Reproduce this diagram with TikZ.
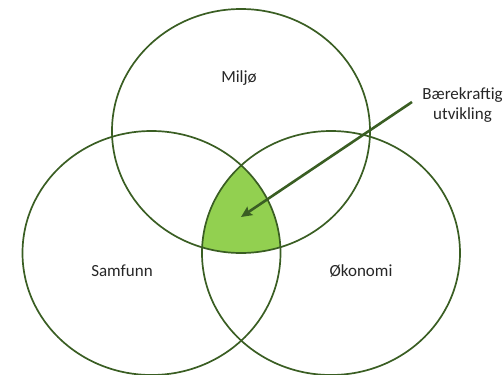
\documentclass[tikz,border=0pt]{standalone}
\usepackage{fontspec}
\setmainfont{Carlito}
\usetikzlibrary{arrows.meta}
\definecolor{ring}{HTML}{3A5E23}
\definecolor{core}{HTML}{92D050}
\definecolor{ink}{HTML}{262626}
\begin{document}
\begin{tikzpicture}[x=1pt,y=-1pt,
  ringline/.style={draw=ring, line width=1.7pt},
  lbl/.style={font=\fontsize{17}{20}\selectfont, text=ink, align=center, inner sep=0pt},
  pointer/.style={draw=ring, line width=2.6pt, -{Stealth[length=11pt,width=10pt,inset=2pt]}}]
\useasboundingbox (0,0) rectangle (504,375);
\begin{scope}
  \clip (241,131) ellipse [x radius=129, y radius=122];
  \clip (151.5,253) ellipse [x radius=129, y radius=122];
  \fill[core] (331,253) ellipse [x radius=129, y radius=122];
\end{scope}
\draw[ringline] (241,131) ellipse [x radius=129, y radius=122];
\draw[ringline] (151.5,253) ellipse [x radius=129, y radius=122];
\draw[ringline] (331,253) ellipse [x radius=129, y radius=122];
\node[lbl] (miljo) at (239,78) {Miljø};
\node[lbl] (samf) at (122,271) {Samfunn};
\node[lbl] (okon) at (361,271) {Økonomi};
\node[lbl] (bu) at (462.5,105) {Bærekraftig\\utvikling};
\coordinate (src) at (412,102);
\coordinate (tip) at (241,217);
\draw[pointer] (src) -- (tip);
\end{tikzpicture}
\end{document}
